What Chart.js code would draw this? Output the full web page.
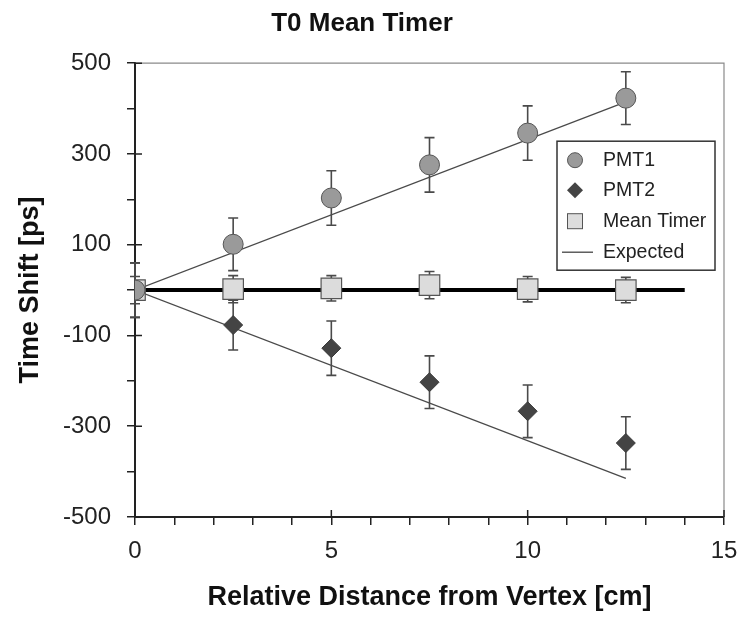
<!DOCTYPE html>
<html>
<head>
<meta charset="utf-8">
<script src="https://cdn.jsdelivr.net/npm/chart.js@4.4.0/dist/chart.umd.min.js"></script>
<style>
  html, body { margin: 0; padding: 0; background: #fff; }
  #wrap { width: 744px; height: 626px; }
</style>
</head>
<body>
<div id="wrap"><canvas id="chart" width="744" height="626"></canvas></div>
<script>
// ---- data ----
const distances = [0, 2.5, 5, 7.5, 10, 12.5];
const pmt1 = [0, 101, 203, 276, 346, 423];
const pmt1Err = [60, 58, 60, 60, 60, 58];
const pmt2 = [0, -77, -128, -203, -267, -337];
const pmt2Err = [60, 55, 60, 58, 58, 58];
const meanTimer = [0, 2, 4, 11, 2, 0];
const meanTimerErr = [30, 30, 28, 30, 28, 28];
const expectedX = [0, 12.5];
const expectedUp = [0, 415];
const expectedDown = [0, -415];
const zeroLineX = [0, 14];
const zeroLineY = [0, 0];
const xMajorTicks = [0, 5, 10, 15];
const yMajorTicks = [500, 300, 100, -100, -300, -500];

const toPoints = (xs, ys) => xs.map((x, i) => ({ x: x, y: ys[i] }));

// error bars drawn under the markers
const errorBars = {
    id: 'errorBars',
    beforeDatasetsDraw(chart) {
        const { ctx, scales: { x, y } } = chart;
        const sets = [[pmt1, pmt1Err], [pmt2, pmt2Err], [meanTimer, meanTimerErr]];
        ctx.save();
        ctx.strokeStyle = '#4a4a4a';
        ctx.lineWidth = 1.6;
        sets.forEach(([vals, errs]) => {
            distances.forEach((d, i) => {
                const px = x.getPixelForValue(d);
                const top = y.getPixelForValue(vals[i] + errs[i]);
                const bot = y.getPixelForValue(vals[i] - errs[i]);
                ctx.beginPath();
                ctx.moveTo(px, top); ctx.lineTo(px, bot);
                ctx.moveTo(px - 5, top); ctx.lineTo(px + 5, top);
                ctx.moveTo(px - 5, bot); ctx.lineTo(px + 5, bot);
                ctx.stroke();
            });
        });
        ctx.restore();
    }
};

// grey frame on top/right, major ticks crossing into the plot
const frame = {
    id: 'frame',
    beforeDatasetsDraw(chart) {
        const { ctx, chartArea: a, scales: { x, y } } = chart;
        ctx.save();
        ctx.strokeStyle = '#8a8a8a';
        ctx.lineWidth = 1.2;
        ctx.beginPath();
        ctx.moveTo(a.left, a.top); ctx.lineTo(a.right, a.top); ctx.lineTo(a.right, a.bottom);
        ctx.stroke();
        ctx.strokeStyle = '#222';
        ctx.lineWidth = 1.5;
        ctx.beginPath();
        xMajorTicks.forEach(v => {
            const px = x.getPixelForValue(v);
            ctx.moveTo(px, a.bottom); ctx.lineTo(px, a.bottom - 7);
        });
        yMajorTicks.forEach(v => {
            const py = y.getPixelForValue(v);
            ctx.moveTo(a.left, py); ctx.lineTo(a.left + 7, py);
        });
        ctx.stroke();
        ctx.restore();
    }
};

// boxed legend inside the plot
const boxLegend = {
    id: 'boxLegend',
    afterDraw(chart) {
        const { ctx, chartArea: a } = chart;
        const left = a.right - 167, top = a.top + 78, w = 158, h = 129;
        ctx.save();
        ctx.fillStyle = '#fff';
        ctx.fillRect(left, top, w, h);
        ctx.strokeStyle = '#333';
        ctx.lineWidth = 1.5;
        ctx.strokeRect(left, top, w, h);
        ctx.font = '19.5px "Liberation Sans", Arial, sans-serif';
        ctx.textBaseline = 'middle';
        const mx = left + 18, tx = left + 46;
        const rows = [top + 19, top + 49, top + 80, top + 111];
        // PMT1
        ctx.beginPath(); ctx.arc(mx, rows[0], 7.5, 0, Math.PI * 2);
        ctx.fillStyle = '#9a9a9a'; ctx.fill(); ctx.strokeStyle = '#555'; ctx.lineWidth = 1; ctx.stroke();
        // PMT2
        ctx.beginPath();
        ctx.moveTo(mx, rows[1] - 8); ctx.lineTo(mx + 8, rows[1]); ctx.lineTo(mx, rows[1] + 8); ctx.lineTo(mx - 8, rows[1]);
        ctx.closePath(); ctx.fillStyle = '#444'; ctx.fill();
        // Mean Timer
        ctx.fillStyle = '#ddd'; ctx.fillRect(mx - 7.5, rows[2] - 7.5, 15, 15);
        ctx.strokeStyle = '#555'; ctx.strokeRect(mx - 7.5, rows[2] - 7.5, 15, 15);
        // Expected
        ctx.beginPath(); ctx.moveTo(left + 5, rows[3]); ctx.lineTo(left + 36, rows[3]);
        ctx.strokeStyle = '#444'; ctx.lineWidth = 1.3; ctx.stroke();
        ctx.fillStyle = '#222';
        ['PMT1', 'PMT2', 'Mean Timer', 'Expected'].forEach((t, i) => ctx.fillText(t, tx, rows[i]));
        ctx.restore();
    }
};

const tickFont = { family: '"Liberation Sans", Arial, sans-serif', size: 24 };
const titleFont = { family: '"Liberation Sans", Arial, sans-serif', size: 27, weight: 'bold' };

new Chart(document.getElementById('chart'), {
    type: 'scatter',
    data: {
        datasets: [
            {
                label: 'PMT1', data: toPoints(distances, pmt1), order: 1,
                pointStyle: 'circle', pointRadius: 10, pointHoverRadius: 10,
                backgroundColor: '#9a9a9a', borderColor: '#555', borderWidth: 1
            },
            {
                label: 'PMT2', data: toPoints(distances, pmt2), order: 2,
                pointStyle: 'rectRot', pointRadius: 9.5, pointHoverRadius: 9.5,
                backgroundColor: '#444', borderColor: '#3a3a3a', borderWidth: 1
            },
            {
                label: 'Mean Timer', data: toPoints(distances, meanTimer), order: 3,
                pointStyle: 'rect', pointRadius: 14.5, pointHoverRadius: 14.5,
                backgroundColor: '#dcdcdc', borderColor: '#555', borderWidth: 1.2
            },
            {
                label: 'Expected', data: toPoints(expectedX, expectedUp), order: 5,
                showLine: true, pointRadius: 0, borderColor: '#4a4a4a', borderWidth: 1.3
            },
            {
                label: 'Expected', data: toPoints(expectedX, expectedDown), order: 5,
                showLine: true, pointRadius: 0, borderColor: '#4a4a4a', borderWidth: 1.3
            },
            {
                label: 'zero', data: toPoints(zeroLineX, zeroLineY), order: 4,
                showLine: true, pointRadius: 0, borderColor: '#000', borderWidth: 4
            }
        ]
    },
    options: {
        responsive: false,
        animation: false,
        layout: { padding: { left: 0, right: 20, top: 0, bottom: 0 } },
        plugins: {
            legend: { display: false },
            tooltip: { enabled: false },
            title: {
                display: true,
                text: 'T0 Mean Timer',
                color: '#111',
                font: { family: '"Liberation Sans", Arial, sans-serif', size: 26, weight: 'bold' },
                padding: { top: 8, bottom: 24 }
            }
        },
        scales: {
            x: {
                type: 'linear', min: 0, max: 15,
                border: { color: '#222', width: 2 },
                grid: { drawOnChartArea: false, color: '#222', tickLength: 8, lineWidth: 1.5 },
                ticks: {
                    stepSize: 1, padding: 12, color: '#222', font: tickFont, maxRotation: 0, autoSkip: false,
                    callback: v => xMajorTicks.includes(v) ? String(v) : ''
                },
                title: { display: true, text: 'Relative Distance from Vertex [cm]', color: '#111', font: titleFont, padding: { top: 12, bottom: 12 } },
                afterFit: s => { s.height = 109; s.paddingRight = 0; s.paddingLeft = 0; }
            },
            y: {
                type: 'linear', min: -500, max: 500,
                border: { color: '#222', width: 2 },
                grid: { drawOnChartArea: false, color: '#222', tickLength: 8, lineWidth: 1.5 },
                ticks: {
                    stepSize: 100, padding: 16, color: '#222', font: tickFont, autoSkip: false,
                    callback: v => yMajorTicks.includes(v) ? String(v) : ''
                },
                title: { display: true, text: 'Time Shift [ps]', color: '#111', font: titleFont, padding: { top: 14, bottom: 14 } },
                afterFit: s => { s.width = 135; }
            }
        }
    },
    plugins: [frame, errorBars, boxLegend]
});
</script>
</body>
</html>
